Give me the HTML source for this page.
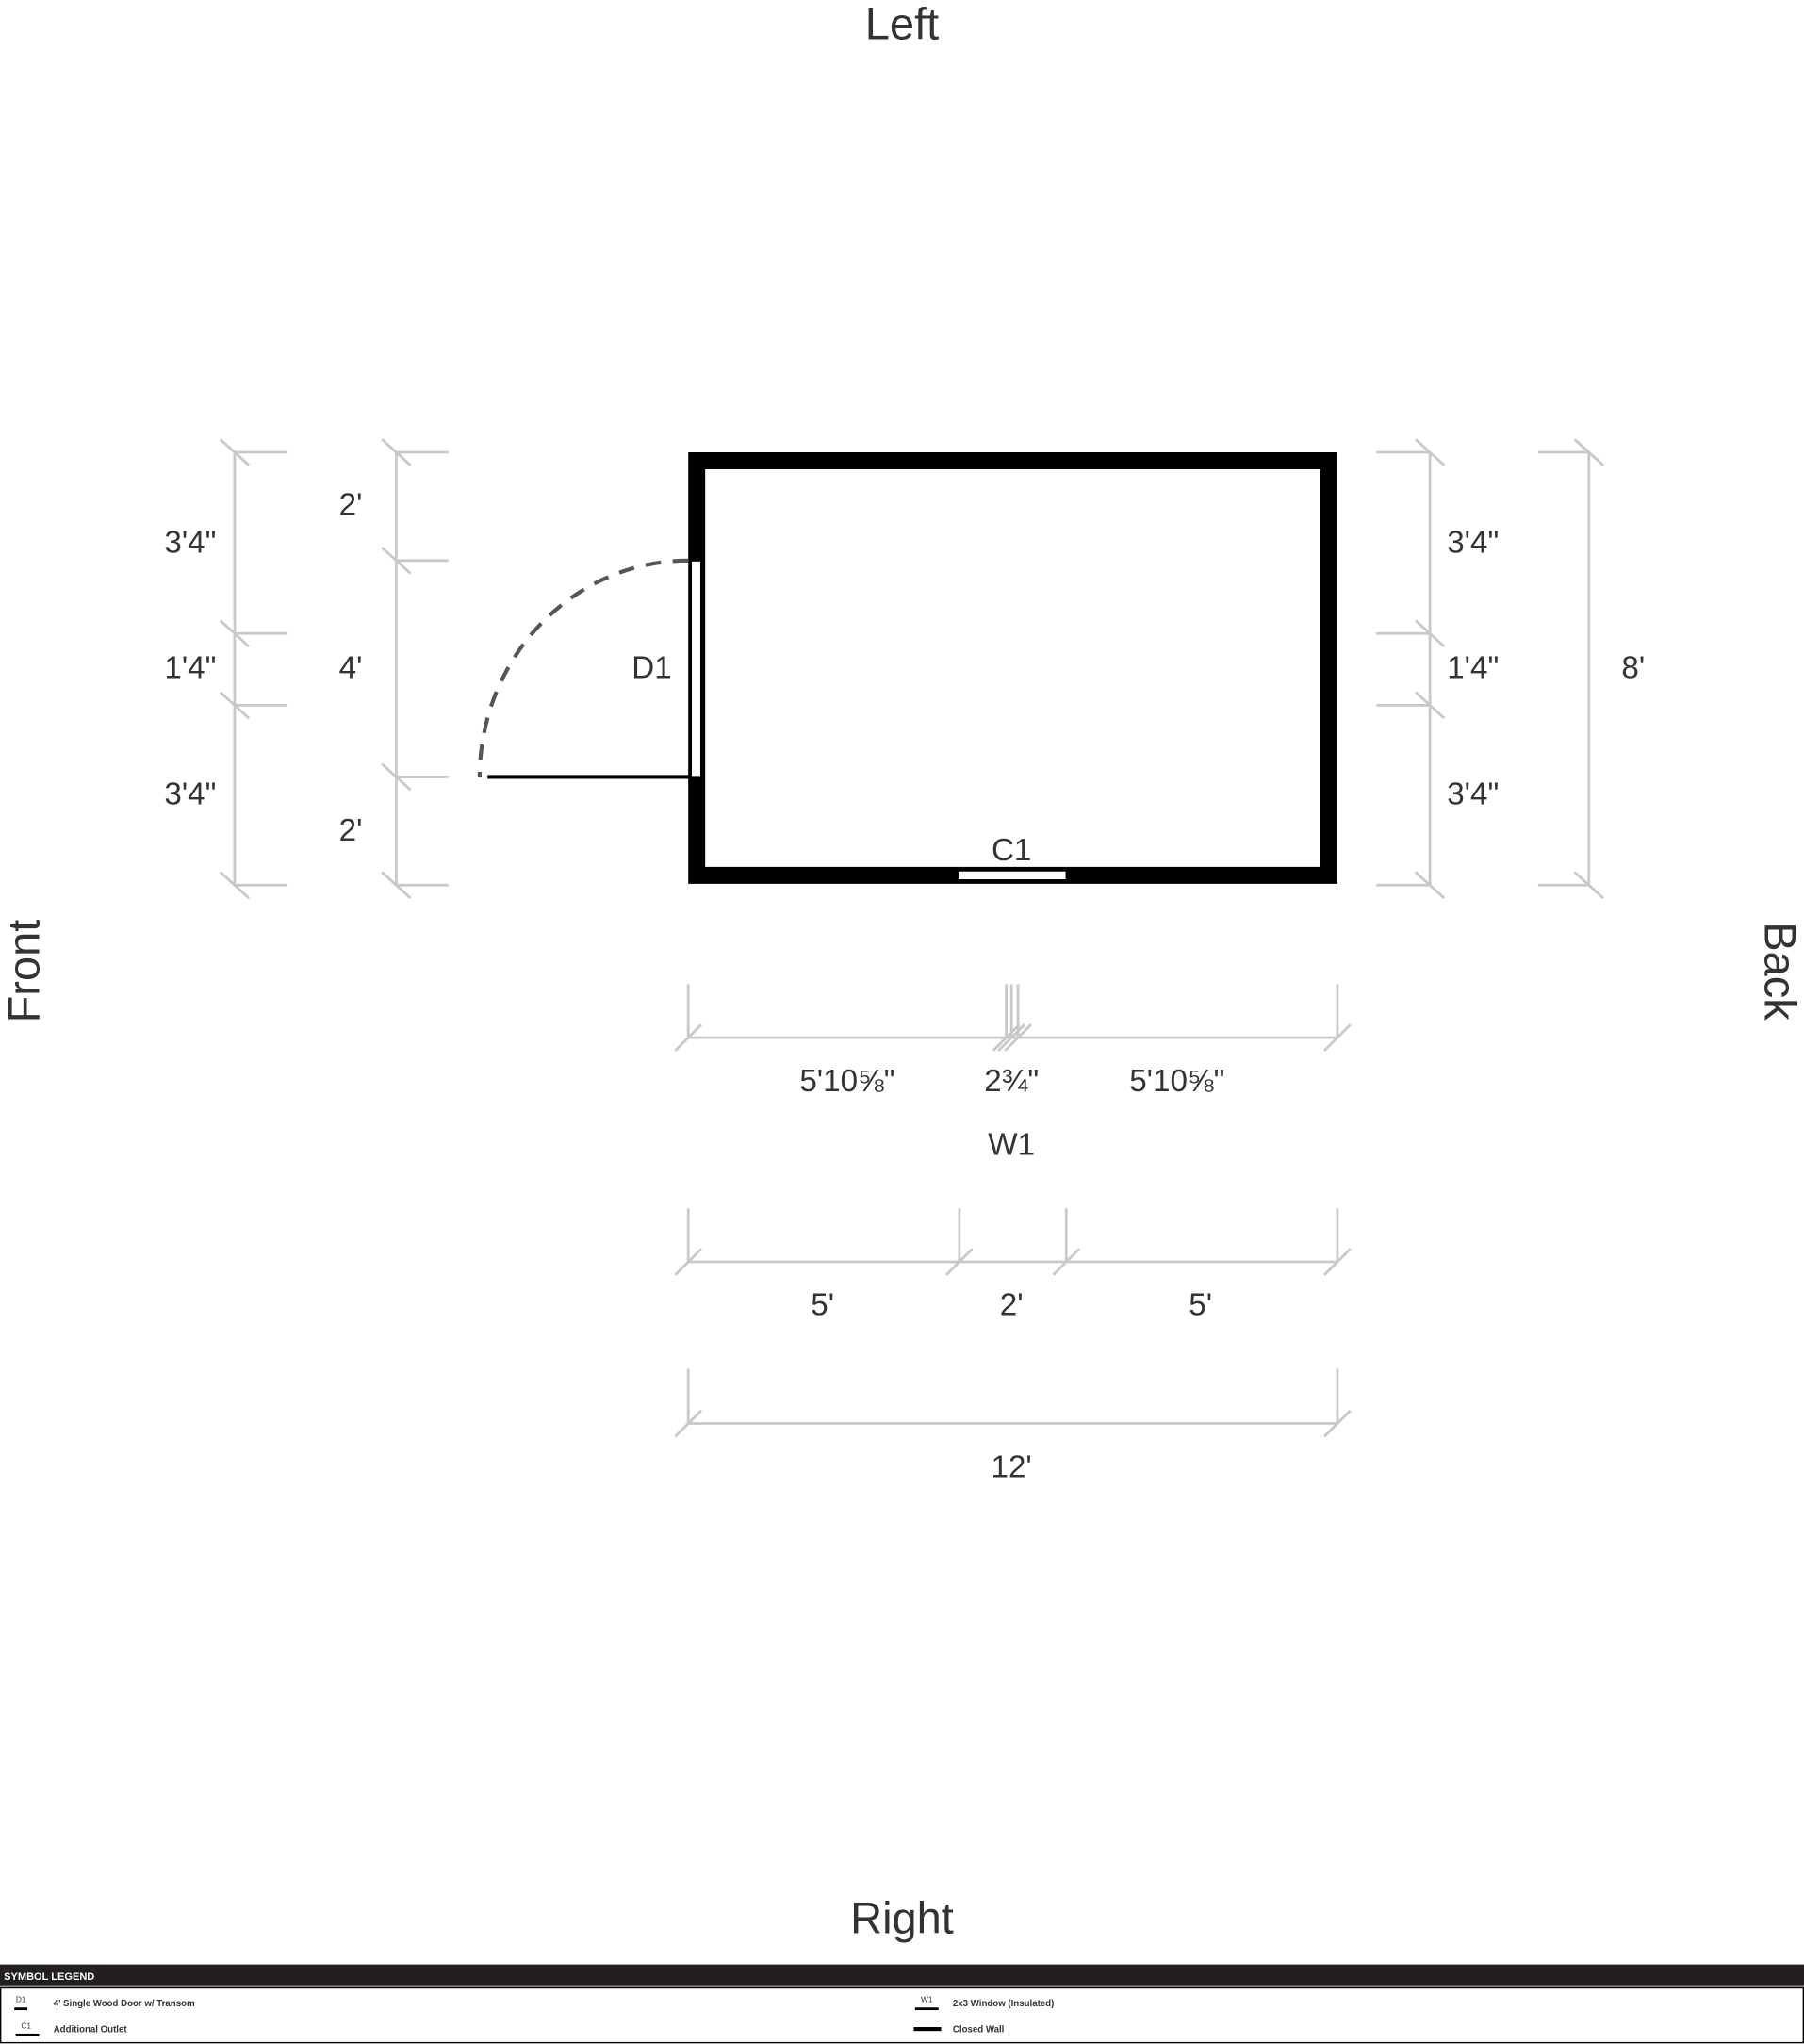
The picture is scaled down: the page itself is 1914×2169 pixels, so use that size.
<!DOCTYPE html>
<html><head><meta charset="utf-8"><style>
html,body{margin:0;padding:0;background:#fff;}
svg{display:block;}
text{font-family:"Liberation Sans",Arial,sans-serif;fill:#333;}
</style></head><body>
<svg width="1914" height="2169" viewBox="0 0 1384 1568" preserveAspectRatio="none">
<rect width="1384" height="1568" fill="#fff"/>
<g font-size="34" text-anchor="middle">
<text x="692" y="30">Left</text>
<text x="692" y="1483">Right</text>
<text transform="translate(30,745) rotate(-90)">Front</text>
<text transform="translate(1354,745) rotate(90)">Back</text>
</g>
<!-- walls -->
<rect x="534.5" y="353.5" width="485" height="318" fill="none" stroke="#000" stroke-width="13"/>
<!-- door -->
<rect x="530" y="430" width="8" height="166" fill="#fff" stroke="#000" stroke-width="1.5"/>
<line x1="374" y1="596" x2="530" y2="596" stroke="#000" stroke-width="3"/>
<path d="M528,430 A160,166 0 0 0 368,596" fill="none" stroke="#555" stroke-width="3" stroke-dasharray="12,9"/>
<!-- outlet -->
<rect x="735" y="668" width="83" height="7" fill="#fff" stroke="#000" stroke-width="1"/>
<g font-size="24" text-anchor="middle">
<text x="500" y="520">D1</text>
<text x="776" y="660">C1</text>
</g>
<g stroke="#c8c8c8" stroke-width="2" fill="none">
<!-- left dim 1 -->
<line x1="180" y1="347" x2="180" y2="679"/>
<path d="M180,347H220M180,486H220M180,541H220M180,679H220"/>
<path d="M169,337L191,357M169,476L191,496M169,531L191,551M169,669L191,689"/>
<!-- left dim 2 -->
<line x1="304" y1="347" x2="304" y2="679"/>
<path d="M304,347H344M304,430H344M304,596H344M304,679H344"/>
<path d="M293,337L315,357M293,420L315,440M293,586L315,606M293,669L315,689"/>
<!-- right dim 1 -->
<line x1="1097" y1="347" x2="1097" y2="679"/>
<path d="M1056,347H1097M1056,486H1097M1056,541H1097M1056,679H1097"/>
<path d="M1086,337L1108,357M1086,476L1108,496M1086,531L1108,551M1086,669L1108,689"/>
<!-- right dim 2 -->
<line x1="1219" y1="347" x2="1219" y2="679"/>
<path d="M1180,347H1219M1180,679H1219"/>
<path d="M1208,337L1230,357M1208,669L1230,689"/>
<!-- bottom row 1 -->
<line x1="528" y1="796" x2="1026" y2="796"/>
<path d="M528,755V796M772,755V796M776,755V796M781,755V796M1026,755V796"/>
<path d="M518,806L538,786M762,806L782,786M766,806L786,786M771,806L791,786M1016,806L1036,786"/>
<!-- row 2 -->
<line x1="528" y1="968" x2="1026" y2="968"/>
<path d="M528,927V968M736,927V968M818,927V968M1026,927V968"/>
<path d="M518,978L538,958M726,978L746,958M808,978L828,958M1016,978L1036,958"/>
<!-- row 3 -->
<line x1="528" y1="1092" x2="1026" y2="1092"/>
<path d="M528,1050V1092M1026,1050V1092"/>
<path d="M518,1102L538,1082M1016,1102L1036,1082"/>
</g>
<g font-size="24" text-anchor="middle">
<text x="146" y="424">3'4"</text>
<text x="146" y="520">1'4"</text>
<text x="146" y="617">3'4"</text>
<text x="269" y="395">2'</text>
<text x="269" y="520">4'</text>
<text x="269" y="645">2'</text>
<text x="1130" y="424">3'4"</text>
<text x="1130" y="520">1'4"</text>
<text x="1130" y="617">3'4"</text>
<text x="1253" y="520">8'</text>
<text x="650" y="837">5'10⅝"</text>
<text x="776" y="837">2¾"</text>
<text x="903" y="837">5'10⅝"</text>
<text x="776" y="886">W1</text>
<text x="631" y="1009">5'</text>
<text x="776" y="1009">2'</text>
<text x="921" y="1009">5'</text>
<text x="776" y="1133">12'</text>
</g>
<!-- legend -->
<rect x="0" y="1507" width="1384" height="16" fill="#231f20"/>
<rect x="0" y="1523" width="1384" height="2" fill="#888"/>
<rect x="0.5" y="1525" width="1383" height="42" fill="#fff" stroke="#000" stroke-width="1"/>
<text x="3" y="1519" font-size="8" font-weight="bold" style="fill:#fff">SYMBOL LEGEND</text>
<g font-size="7" style="fill:#000">
<text x="16" y="1536" font-size="6" text-anchor="middle">D1</text>
<rect x="11" y="1540" width="10" height="2" fill="#000"/>
<text x="41" y="1539" font-weight="bold">4' Single Wood Door w/ Transom</text>
<text x="20" y="1556" font-size="6" text-anchor="middle">C1</text>
<rect x="12" y="1560" width="18" height="2" fill="#000"/>
<text x="41" y="1559" font-weight="bold">Additional Outlet</text>
<text x="711" y="1536" font-size="6" text-anchor="middle">W1</text>
<rect x="702" y="1540" width="18" height="2" fill="#000"/>
<text x="731" y="1539" font-weight="bold">2x3 Window (Insulated)</text>
<rect x="701" y="1555" width="21" height="3" fill="#000"/>
<text x="731" y="1559" font-weight="bold">Closed Wall</text>
</g>
</svg>
</body></html>
